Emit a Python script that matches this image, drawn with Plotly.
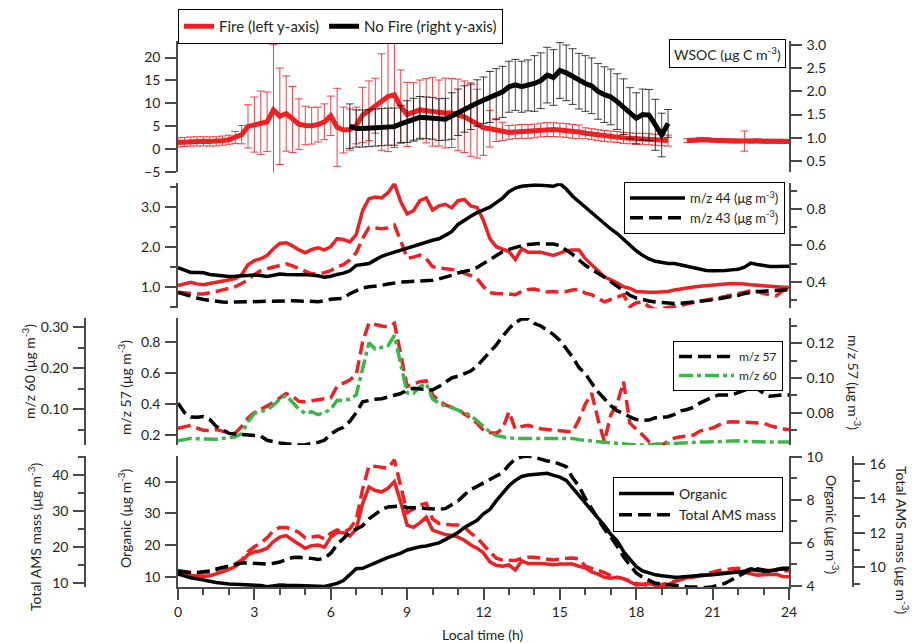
import plotly.graph_objects as go

W, H = 912, 643
def px(x): return x / W
def py(y): return 1 - y / H

RED = "#ED2024"
GREEN = "#3DB54A"
BLK = "#000000"
AX = "#4a4a4a"
TXT = "#231f20"
FONT = "Lato"

# ---------------- data (0.25 h resolution) ----------------
HOURS = [i * 0.25 for i in range(97)]

WSOC_FIRE = [1.5, 1.6, 1.7, 1.74, 1.74, 1.72, 1.74, 1.9, 2.1, 2.6, 3.2, 5.0, 5.4, 5.8, 6.0, 8.6,
             7.2, 7.8, 6.5, 5.5, 5.2, 5.15, 5.4, 6.0, 7.3, 4.8, 4.2, 4.3, 5.2, 7.5, 8.4, 9.5,
             10.3, 11.5, 11.9, 9.3, 7.6, 8.1, 8.6, 8.4, 8.2, 7.9, 7.9, 7.9, 7.5, 7.1, 6.3, 5.6,
             4.7, 4.5, 4.2, 3.9, 3.7, 3.8, 3.9, 3.9, 4.0, 4.2, 4.3, 4.3, 4.2, 4.1, 3.9, 3.8,
             3.5, 3.3, 3.1, 2.9, 2.8, 2.7, 2.5, 2.4, 2.3, 2.3, 2.2, 2.1, 2.0, 1.9, None, None,
             1.9, 2.0, 2.2, 2.1, 2.0, 1.9, 1.9, 1.8, 1.8, 1.8, 1.8, 1.9, 1.8, 1.8, 1.8, 1.8, 1.7]
WSOC_FIRE_ERR = [1.0, 1.0, 1.0, 1.0, 1.0, 1.0, 1.0, 1.0, 1.0, 1.3, 2.0, 4.7, 6.0, 6.9, 6.5, 14.2,
                 10.5, 8.2, 7.2, 5.5, 4.2, 4.0, 3.8, 3.9, 4.3, 8.5, 5.0, 4.5, 4.0, 6.0, 6.5, 6.0,
                 10.5, 12.0, 11.5, 8.0, 7.0, 6.4, 6.5, 7.0, 7.5, 7.2, 7.6, 7.5, 7.8, 7.8, 7.8, 7.5,
                 6.0, 4.0, 2.5, 2.0, 1.5, 1.5, 1.5, 1.5, 1.5, 1.5, 1.5, 1.5, 1.5, 1.5, 1.5, 1.5,
                 1.2, 1.2, 1.2, 1.2, 1.2, 1.2, 1.2, 1.2, 1.2, 1.2, 1.2, 1.2, 1.2, 1.2, 0, 0,
                 0.4, 0.4, 0.4, 0.4, 0.4, 0.4, 0.4, 0.4, 0.4, 2.2, 0.4, 0.4, 0.4, 0.4, 0.4, 0.4, 0.4]

HOURS_NF = [6.75 + i * 0.25 for i in range(51)]
WSOC_NOFIRE = [1.25, 1.2, 1.2, 1.21, 1.22, 1.23, 1.24, 1.24, 1.3, 1.35, 1.4, 1.44, 1.43, 1.42, 1.39,
               1.4, 1.47, 1.55, 1.62, 1.68, 1.75, 1.81, 1.88, 1.94, 1.99, 2.1, 2.14, 2.1, 2.13, 2.17,
               2.23, 2.35, 2.3, 2.45, 2.4, 2.32, 2.22, 2.17, 2.12, 2.0, 1.93, 1.88, 1.78, 1.67, 1.53,
               1.42, 1.5, 1.49, 1.28, 1.06, 1.31]
WSOC_NOFIRE_ERR = [0.48, 0.4, 0.4, 0.4, 0.4, 0.4, 0.4, 0.4, 0.4, 0.45, 0.45, 0.45, 0.45, 0.45, 0.45,
                   0.45, 0.5, 0.5, 0.5, 0.5, 0.5, 0.5, 0.55, 0.55, 0.55, 0.55, 0.55, 0.55, 0.55, 0.6,
                   0.6, 0.6, 0.6, 0.6, 0.6, 0.6, 0.6, 0.6, 0.6, 0.6, 0.6, 0.6, 0.6, 0.6, 0.55,
                   0.55, 0.55, 0.55, 0.55, 0.47, 0.3]

MZ44_FIRE = [1.03, 1.07, 1.11, 1.07, 1.05, 1.08, 1.11, 1.13, 1.16, 1.2, 1.3, 1.55, 1.65, 1.7, 1.78, 1.95,
             2.08, 2.1, 2.02, 1.92, 1.85, 1.93, 1.97, 1.92, 2.0, 2.2, 2.18, 2.12, 2.3, 2.9, 3.2, 3.24,
             3.22, 3.35, 3.58, 3.12, 2.82, 2.9, 3.15, 3.22, 2.92, 3.02, 3.06, 2.97, 3.15, 3.18, 3.02, 2.98,
             2.65, 2.2, 2.0, 1.93, 1.88, 1.68, 1.95, 1.86, 1.85, 1.86, 1.82, 1.78, 1.84, 1.9, 1.92, 1.92,
             1.7, 1.55, 1.4, 1.25, 1.17, 1.1, 1.0, 0.96, 0.88, 0.86, 0.86, 0.86, 0.86, 0.88, 0.92, 0.95,
             0.97, 0.99, 1.01, 1.03, 1.05, 1.06, 1.07, 1.08, 1.08, 1.07, 1.05, 1.03, 1.02, 1.01, 1.0, 0.99, 0.98]
MZ43_FIRE = [0.86, 0.84, 0.82, 0.82, 0.82, 0.84, 0.88, 0.92, 0.95, 1.0, 1.08, 1.17, 1.3, 1.4, 1.45, 1.49,
             1.53, 1.57, 1.52, 1.46, 1.38, 1.32, 1.33, 1.35, 1.4, 1.5, 1.55, 1.67, 1.85, 2.2, 2.48, 2.47,
             2.45, 2.47, 2.54, 2.15, 1.71, 1.74, 1.79, 1.7, 1.5, 1.47, 1.44, 1.43, 1.42, 1.33, 1.28, 1.2,
             1.0, 0.85, 0.83, 0.83, 0.82, 0.8, 0.88, 0.93, 0.94, 0.9, 0.87, 0.88, 0.86, 0.88, 0.92, 0.93,
             0.84, 0.8, 0.72, 0.62, 0.68, 0.73, 0.8, 0.5, 0.6, 0.62, 0.5, 0.43, 0.45, 0.48, 0.5, 0.53,
             0.57, 0.61, 0.65, 0.67, 0.69, 0.72, 0.76, 0.79, 0.82, 0.86, 0.9, 0.88, 0.83, 0.8, 0.77, 0.9, 0.94]
MZ44_NOFIRE = [0.478, 0.465, 0.451, 0.45, 0.449, 0.44, 0.435, 0.431, 0.429, 0.43, 0.432, 0.435, 0.437, 0.434, 0.429, 0.435,
               0.442, 0.44, 0.437, 0.438, 0.44, 0.438, 0.433, 0.425, 0.43, 0.44, 0.447, 0.46, 0.49, 0.495, 0.5, 0.52,
               0.54, 0.552, 0.562, 0.572, 0.585, 0.595, 0.607, 0.617, 0.628, 0.636, 0.655, 0.675, 0.715, 0.74, 0.76, 0.78,
               0.795, 0.81, 0.835, 0.86, 0.895, 0.915, 0.925, 0.93, 0.932, 0.93, 0.927, 0.925, 0.94, 0.91, 0.87, 0.84,
               0.81, 0.775, 0.75, 0.717, 0.69, 0.665, 0.634, 0.6, 0.57, 0.545, 0.525, 0.512, 0.505, 0.5, 0.5, 0.492,
               0.486, 0.478, 0.47, 0.462, 0.46, 0.46, 0.462, 0.465, 0.468, 0.48, 0.502, 0.495, 0.488, 0.484, 0.483, 0.484, 0.485]
MZ43_NOFIRE = [0.341, 0.33, 0.316, 0.31, 0.302, 0.296, 0.29, 0.288, 0.287, 0.288, 0.289, 0.29, 0.29, 0.291, 0.293, 0.294,
               0.296, 0.296, 0.295, 0.294, 0.294, 0.292, 0.29, 0.295, 0.303, 0.306, 0.308, 0.334, 0.35, 0.365, 0.372, 0.374,
               0.38, 0.387, 0.393, 0.398, 0.4, 0.402, 0.404, 0.405, 0.408, 0.415, 0.424, 0.435, 0.448, 0.455, 0.465, 0.478,
               0.5, 0.526, 0.548, 0.565, 0.578, 0.59, 0.598, 0.604, 0.607, 0.61, 0.608, 0.607, 0.598, 0.575, 0.55, 0.52,
               0.49, 0.467, 0.448, 0.425, 0.4, 0.375, 0.352, 0.325, 0.31, 0.3, 0.294, 0.288, 0.284, 0.282, 0.28, 0.281,
               0.284, 0.287, 0.29, 0.295, 0.3, 0.306, 0.312, 0.318, 0.325, 0.335, 0.342, 0.346, 0.348, 0.35, 0.351, 0.354, 0.356]

MZ57_FIRE = [0.243, 0.25, 0.262, 0.245, 0.23, 0.228, 0.235, 0.225, 0.215, 0.212, 0.255, 0.31, 0.345, 0.365, 0.385, 0.41,
             0.44, 0.468, 0.45, 0.418, 0.415, 0.42, 0.425, 0.43, 0.44, 0.515, 0.535, 0.556, 0.588, 0.8, 0.925, 0.913,
             0.905, 0.9, 0.923, 0.72, 0.515, 0.53, 0.545, 0.55, 0.46, 0.42, 0.395, 0.38, 0.365, 0.335, 0.31, 0.275,
             0.23, 0.215, 0.212, 0.24, 0.35, 0.238, 0.255, 0.262, 0.25, 0.24, 0.235, 0.23, 0.226, 0.225, 0.22, 0.3,
             0.4, 0.47, 0.3, 0.157, 0.33, 0.4, 0.545, 0.276, 0.24, 0.2, 0.157, 0.14, 0.135, 0.16, 0.18, 0.188,
             0.195, 0.2, 0.225, 0.235, 0.245, 0.265, 0.282, 0.286, 0.283, 0.28, 0.279, 0.278, 0.276, 0.26, 0.248, 0.238, 0.236]
MZ60_FIRE = [0.0234, 0.026, 0.029, 0.028, 0.027, 0.027, 0.027, 0.029, 0.031, 0.033, 0.04, 0.07, 0.09, 0.095, 0.099, 0.11,
             0.125, 0.134, 0.117, 0.1, 0.09, 0.094, 0.087, 0.092, 0.1, 0.122, 0.121, 0.125, 0.135, 0.2, 0.262, 0.247,
             0.25, 0.255, 0.28, 0.21, 0.14, 0.139, 0.155, 0.163, 0.125, 0.115, 0.108, 0.104, 0.099, 0.092, 0.085, 0.072,
             0.058, 0.045, 0.036, 0.032, 0.03, 0.029, 0.029, 0.03, 0.031, 0.031, 0.03, 0.029, 0.029, 0.029, 0.029, 0.026,
             0.024, 0.022, 0.02, 0.019, 0.018, 0.017, 0.015, 0.014, 0.013, 0.013, 0.014, 0.015, 0.015, 0.016, 0.016, 0.017,
             0.018, 0.019, 0.02, 0.02, 0.021, 0.022, 0.023, 0.024, 0.023, 0.022, 0.021, 0.021, 0.021, 0.02, 0.02, 0.02, 0.02]
MZ57_NOFIRE = [0.0854, 0.08, 0.0775, 0.0773, 0.0777, 0.076, 0.072, 0.07, 0.068, 0.0677, 0.0675, 0.0674, 0.0672, 0.0665, 0.064, 0.063,
               0.0625, 0.062, 0.0615, 0.0613, 0.0615, 0.0619, 0.0628, 0.064, 0.0675, 0.07, 0.0715, 0.075, 0.08, 0.0862, 0.087, 0.0877,
               0.088, 0.0888, 0.09, 0.091, 0.093, 0.094, 0.0935, 0.093, 0.093, 0.095, 0.0975, 0.1, 0.101, 0.1025, 0.104, 0.107,
               0.111, 0.115, 0.119, 0.124, 0.1285, 0.132, 0.134, 0.1342, 0.1315, 0.13, 0.1275, 0.125, 0.1217, 0.117, 0.112, 0.106,
               0.1025, 0.097, 0.092, 0.088, 0.084, 0.081, 0.0796, 0.0775, 0.076, 0.0756, 0.0757, 0.077, 0.0775, 0.0776, 0.079, 0.081,
               0.0818, 0.083, 0.0855, 0.0875, 0.089, 0.0902, 0.0902, 0.0902, 0.0915, 0.093, 0.0942, 0.094, 0.091, 0.0895, 0.09, 0.0902, 0.0902]

ORG_FIRE = [10.85, 10.7, 10.5, 10.2, 10.0, 10.3, 10.8, 11.5, 12.3, 13.2, 14.8, 17.0, 17.8, 18.2, 19.0, 21.1,
            22.5, 23.0, 21.6, 20.2, 19.0, 19.8, 20.0, 19.3, 22.5, 24.0, 23.9, 22.8, 25.0, 33.0, 38.3, 37.2,
            36.8, 37.9, 40.0, 33.5, 26.3, 25.6, 27.0, 28.8, 24.7, 24.0, 23.3, 23.0, 22.5, 21.5, 20.0, 19.0,
            17.5, 14.7, 13.6, 13.3, 13.7, 12.1, 15.0, 14.2, 14.3, 14.2, 14.0, 13.8, 14.0, 14.1, 14.0, 13.3,
            12.8, 11.5, 10.8, 9.8, 9.5, 9.8, 9.4, 8.4, 7.4, 7.6, 7.9, 7.3, 6.8, 7.5, 8.5, 9.2,
            9.7, 10.0, 10.2, 10.5, 10.8, 11.1, 11.3, 11.4, 11.6, 11.4, 11.0, 10.5, 10.6, 10.8, 10.8, 10.1, 10.0]
AMS_FIRE = [13.3, 13.0, 12.7, 12.6, 12.7, 12.9, 13.5, 14.1, 14.6, 15.2, 16.3, 18.6, 20.0, 21.0, 22.5, 24.5,
            25.4, 25.4, 24.8, 24.0, 22.5, 22.7, 23.0, 22.2, 23.8, 24.7, 24.0, 25.0, 27.5, 36.0, 42.5, 42.4,
            42.2, 41.9, 44.2, 36.5, 29.5, 30.5, 31.6, 32.1, 27.8, 26.5, 26.2, 26.1, 26.1, 25.5, 23.8, 22.5,
            20.5, 18.5, 16.8, 16.3, 16.3, 16.2, 16.8, 17.1, 17.1, 16.8, 16.4, 16.3, 16.6, 16.8, 16.9, 16.6,
            14.6, 14.0, 13.5, 12.8, 12.0, 11.5, 11.0, 10.6, 9.8, 9.4, 9.2, 9.1, 9.4, 9.9, 10.4, 10.8,
            11.1, 11.5, 12.0, 12.4, 12.9, 13.4, 13.7, 13.9, 14.0, 13.8, 13.5, 13.3, 13.4, 13.5, 13.5, 13.3, 13.3]
ORG_NOFIRE = [4.56, 4.45, 4.38, 4.33, 4.29, 4.22, 4.16, 4.11, 4.09, 4.08, 4.07, 4.06, 4.05, 4.02, 3.97, 4.0,
              4.05, 4.03, 4.01, 4.0, 4.01, 4.0, 3.97, 3.98, 4.05, 4.12, 4.25, 4.5, 4.8, 4.82, 4.95, 5.05,
              5.17, 5.33, 5.42, 5.52, 5.67, 5.75, 5.82, 5.86, 5.92, 6.0, 6.15, 6.32, 6.48, 6.72, 6.87, 7.05,
              7.35, 7.55, 7.95, 8.3, 8.65, 8.9, 9.08, 9.15, 9.18, 9.2, 9.23, 9.13, 9.05, 8.9, 8.55, 8.2,
              7.9, 7.5, 7.2, 6.8, 6.4, 6.1, 5.6, 5.25, 4.9, 4.7, 4.6, 4.52, 4.48, 4.43, 4.41, 4.42,
              4.45, 4.47, 4.5, 4.51, 4.52, 4.55, 4.59, 4.6, 4.62, 4.68, 4.8, 4.75, 4.68, 4.7, 4.76, 4.82, 4.82]
AMS_NOFIRE = [9.77, 9.7, 9.66, 9.68, 9.72, 9.77, 9.88, 9.98, 10.05, 10.15, 10.23, 10.23, 10.22, 10.18, 10.16, 10.22,
              10.29, 10.42, 10.55, 10.56, 10.55, 10.5, 10.43, 10.5, 10.8, 11.3, 11.66, 12.05, 12.2, 12.4, 12.8, 13.1,
              13.35, 13.5, 13.55, 13.55, 13.47, 13.48, 13.45, 13.41, 13.38, 13.36, 13.4, 13.6, 13.85, 14.2, 14.52, 14.7,
              14.88, 15.1, 15.3, 15.5, 15.95, 16.3, 16.42, 16.47, 16.4, 16.3, 16.18, 16.14, 16.0, 15.85, 15.2, 14.7,
              14.0, 13.35, 12.8, 12.2, 11.75, 11.2, 10.6, 10.1, 9.65, 9.4, 9.2, 9.05, 9.0, 8.95, 8.92, 8.9,
              8.85, 8.83, 8.82, 8.8, 8.85, 8.95, 9.05, 9.25, 9.45, 9.65, 9.85, 9.9, 9.8, 9.75, 9.85, 9.9, 9.9]

X_TICKS = [0, 3, 6, 9, 12, 15, 18, 21, 24]

DASH = "13px,6px"
DASHDOT = "14px,4px,4px,4px"

fig = go.Figure()

# ---- Panel 1: WSOC (no-fire drawn first so the fire line sits on top) ----
fig.add_trace(go.Scatter(x=HOURS, y=[None] * len(HOURS), name="Fire (left y-axis)", yaxis="y", mode="lines",
                         line=dict(color=RED, width=5), legend="legend", hoverinfo="skip"))
fig.add_trace(go.Scatter(x=HOURS_NF, y=WSOC_NOFIRE, name="No Fire (right y-axis)", yaxis="y2", mode="lines",
                         line=dict(color=BLK, width=5),
                         error_y=dict(type="data", array=WSOC_NOFIRE_ERR, color="rgba(0,0,0,0.75)",
                                      thickness=1, width=4),
                         legend="legend"))
fig.add_trace(go.Scatter(x=HOURS, y=WSOC_FIRE, name="Fire (left y-axis)", yaxis="y", mode="lines",
                         line=dict(color=RED, width=5), connectgaps=False, showlegend=False,
                         error_y=dict(type="data", array=WSOC_FIRE_ERR, color="rgba(237,32,36,0.85)",
                                      thickness=1, width=4)))

# ---- Panel 2 ----
fig.add_trace(go.Scatter(x=HOURS, y=MZ44_FIRE, yaxis="y3", mode="lines", showlegend=False,
                         line=dict(color=RED, width=3.5)))
fig.add_trace(go.Scatter(x=HOURS, y=MZ43_FIRE, yaxis="y3", mode="lines", showlegend=False,
                         line=dict(color=RED, width=3.5, dash=DASH)))
fig.add_trace(go.Scatter(x=HOURS, y=MZ44_NOFIRE, yaxis="y4", mode="lines", name="m/z 44 (μg m<sup>-3</sup>)",
                         line=dict(color=BLK, width=3.5), legend="legend2"))
fig.add_trace(go.Scatter(x=HOURS, y=MZ43_NOFIRE, yaxis="y4", mode="lines", name="m/z 43 (μg m<sup>-3</sup>)",
                         line=dict(color=BLK, width=3.5, dash=DASH), legend="legend2"))

# ---- Panel 3 ----
fig.add_trace(go.Scatter(x=HOURS, y=MZ57_FIRE, yaxis="y5", mode="lines", showlegend=False,
                         line=dict(color=RED, width=3.5, dash=DASH)))
fig.add_trace(go.Scatter(x=HOURS, y=MZ57_NOFIRE, yaxis="y7", mode="lines", name="m/z 57",
                         line=dict(color=BLK, width=3.5, dash=DASH), legend="legend3"))
fig.add_trace(go.Scatter(x=HOURS, y=MZ60_FIRE, yaxis="y6", mode="lines", name="m/z 60",
                         line=dict(color=GREEN, width=3.5, dash=DASHDOT), legend="legend3"))

# ---- Panel 4 ----
fig.add_trace(go.Scatter(x=HOURS, y=ORG_FIRE, yaxis="y8", mode="lines", showlegend=False,
                         line=dict(color=RED, width=3.5)))
fig.add_trace(go.Scatter(x=HOURS, y=AMS_FIRE, yaxis="y9", mode="lines", showlegend=False,
                         line=dict(color=RED, width=3.5, dash=DASH)))
fig.add_trace(go.Scatter(x=HOURS, y=ORG_NOFIRE, yaxis="y10", mode="lines", name="Organic",
                         line=dict(color=BLK, width=3.5), legend="legend4"))
fig.add_trace(go.Scatter(x=HOURS, y=AMS_NOFIRE, yaxis="y11", mode="lines", name="Total AMS mass",
                         line=dict(color=BLK, width=3.5, dash=DASH), legend="legend4"))

tickfont = dict(family=FONT, size=14, color=TXT)

def yax(rng, dtick, fmt, side="left", minor=None, **kw):
    d = dict(range=rng, dtick=dtick, tick0=0, tickformat=fmt, side=side, showline=True,
             linecolor=AX, linewidth=1.5, ticks="outside", ticklen=11, tickwidth=1.5, tickcolor=AX,
             showgrid=False, zeroline=False, tickfont=tickfont, automargin=False, ticklabelstandoff=2)
    if minor is not None:
        d["minor"] = dict(dtick=minor, ticks="outside", ticklen=6, tickwidth=1.5, tickcolor=AX, showgrid=False)
    d.update(kw)
    return d

D1 = [py(172.3), py(41)]
D2 = [py(308.3), py(183.3)]
D3 = [py(445), py(318)]
D4 = [py(587), py(456)]

layout = dict(
    width=W, height=H, margin=dict(l=0, r=0, t=0, b=0),
    paper_bgcolor="white", plot_bgcolor="rgba(0,0,0,0)",
    font=dict(family=FONT, color=TXT),
    xaxis=dict(domain=[px(178), px(789)], range=[0, 24], anchor="y8", tickvals=X_TICKS,
               showline=True, linecolor=AX, linewidth=1.5, ticks="outside", ticklen=11, tickwidth=1.5,
               tickcolor=AX, showgrid=False, zeroline=False, tickfont=tickfont, automargin=False,
               minor=dict(dtick=1, ticks="outside", ticklen=6, tickwidth=1.5, tickcolor=AX, showgrid=False)),
    yaxis=yax([-5, 23.6], 5, "d", domain=D1, anchor="x"),
    yaxis2=yax([0.256, 3.086], 0.5, ".1f", side="right", overlaying="y", anchor="x"),
    yaxis3=yax([0.46, 3.585], 1, ".1f", minor=0.5, domain=D2, anchor="x"),
    yaxis4=yax([0.2535, 0.9414], 0.2, ".1f", side="right", minor=0.1, overlaying="y3", anchor="x"),
    yaxis5=yax([0.135, 0.957], 0.2, ".1f", domain=D3, anchor="x"),
    yaxis6=yax([0.0129, 0.3227], 0.1, ".2f", minor=0.05, overlaying="y5", anchor="free", position=px(85)),
    yaxis7=yax([0.0613, 0.1346], 0.02, ".2f", side="right", minor=0.01, overlaying="y5", anchor="x"),
    yaxis8=yax([6.75, 48.1], 10, "d", domain=D4, anchor="x"),
    yaxis9=yax([8.8, 45.29], 10, "d", minor=5, overlaying="y8", anchor="free", position=px(85)),
    yaxis10=yax([3.954, 10.03], 2, "d", side="right", minor=1, overlaying="y8", anchor="x"),
    yaxis11=yax([8.83, 16.47], 2, "d", side="right", minor=1, overlaying="y8", anchor="free", position=px(853)),
    legend=dict(orientation="h", x=px(178), y=py(9), xanchor="left", yanchor="top",
                bordercolor="#000", borderwidth=1, bgcolor="white", font=dict(family=FONT, size=15, color=TXT)),
    legend2=dict(x=px(785), y=py(182), xanchor="right", yanchor="top", itemwidth=55,
                 bordercolor="#000", borderwidth=1, bgcolor="white", font=dict(family=FONT, size=13, color=TXT)),
    legend3=dict(x=px(783), y=py(341), xanchor="right", yanchor="top", itemwidth=55,
                 bordercolor="#000", borderwidth=1, bgcolor="white", font=dict(family=FONT, size=12, color=TXT)),
    legend4=dict(x=px(783), y=py(477), xanchor="right", yanchor="top", itemwidth=55,
                 bordercolor="#000", borderwidth=1, bgcolor="white", font=dict(family=FONT, size=14, color=TXT)),
)
fig.update_layout(**layout)

def ann(text, x, y, angle=0, size=14, **kw):
    d = dict(text=text, x=px(x), y=py(y), xref="paper", yref="paper", showarrow=False,
             textangle=angle, xanchor="center", yanchor="middle", font=dict(family=FONT, size=size, color=TXT))
    d.update(kw)
    fig.add_annotation(**d)

UNIT = "(μg m<sup>-3</sup>)"
ann("WSOC (μg C m<sup>-3</sup>)", 727, 53, size=14, bordercolor="#000", borderwidth=1, bgcolor="white", borderpad=4)
ann("m/z 60 " + UNIT, 28, 372, -90)
ann("m/z 57 " + UNIT, 124, 388, -90)
ann("m/z 57 " + UNIT, 855, 382, 90)
ann("Total AMS mass " + UNIT, 34, 537, -90)
ann("Organic " + UNIT, 124, 518, -90)
ann("Organic " + UNIT, 833, 525, 90)
ann("Total AMS mass " + UNIT, 903, 540, 90)
ann("Local time (h)", 483, 634)

fig.write_html("out.html")
